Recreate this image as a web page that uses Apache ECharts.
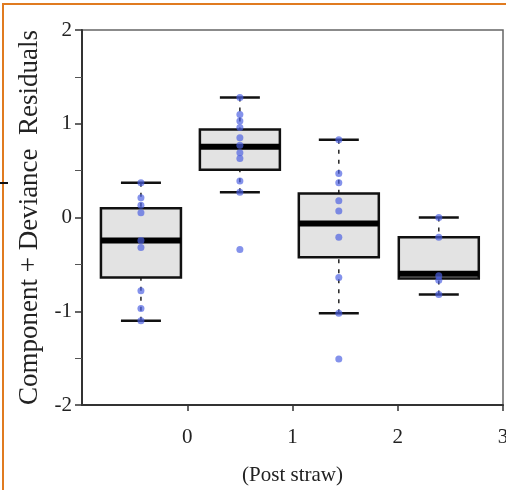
<!DOCTYPE html>
<html><head><meta charset="utf-8">
<script src="https://cdn.jsdelivr.net/npm/echarts@6/dist/echarts.min.js"></script>
<style>html,body{margin:0;padding:0;background:#fff}#c{width:506px;height:490px}</style>
</head><body><div id="c"></div>
<script>
// group positions on the x axis
const groupX = [-0.44, 0.5, 1.44, 2.39];
// box stats: [low whisker, q1, median, q3, high whisker]
const boxStats = [
  [-1.1, -0.64, -0.245, 0.1, 0.37],
  [0.27, 0.51, 0.755, 0.94, 1.28],
  [-1.02, -0.425, -0.065, 0.255, 0.83],
  [-0.82, -0.65, -0.6, -0.21, 0.0]
];
// residual points per group
const pts1 = [0.37, 0.21, 0.13, 0.05, -0.245, -0.32, -0.78, -0.97, -1.1];
const pts2 = [1.28, 1.1, 1.03, 0.96, 0.85, 0.77, 0.69, 0.63, 0.39, 0.27, -0.34];
const pts3 = [0.83, 0.47, 0.37, 0.18, 0.07, -0.21, -0.64, -1.02, -1.51];
const pts4 = [0.0, -0.21, -0.62, -0.67, -0.82];
const yTicks = [-2, -1, 0, 1, 2];
const xTicks = [0, 1, 2, 3];

const allPts = [pts1, pts2, pts3, pts4];
const scatterData = [];
allPts.forEach((arr, i) => arr.forEach(v => scatterData.push([groupX[i], v])));
const boxData = boxStats.map((s, i) => [groupX[i]].concat(s));

const serif = '"Liberation Serif","DejaVu Serif",serif';
const chart = echarts.init(document.getElementById('c'));
chart.setOption({
  animation: false,
  backgroundColor: '#fff',
  grid: {left: 82, right: 3, top: 30, bottom: 85, show: true, borderColor: '#666', borderWidth: 1.5,
    outerBoundsMode: 'none', containLabel: false},
  xAxis: {
    type: 'value', min: -1, max: 3, interval: 1,
    splitLine: {show: false},
    axisLine: {onZero: false, lineStyle: {color: '#333', width: 2}},
    axisTick: {show: true, inside: false, length: 6, lineStyle: {color: '#333', width: 1.5},
      customValues: xTicks},
    axisLabel: {customValues: xTicks, color: '#222', fontFamily: serif, fontSize: 21, margin: 22},
    name: '(Post straw)', nameLocation: 'middle', nameGap: 60,
    nameTextStyle: {color: '#222', fontFamily: serif, fontSize: 21}
  },
  yAxis: {
    type: 'value', min: -2, max: 2, interval: 1,
    splitLine: {show: false},
    axisLine: {show: true, onZero: false, lineStyle: {color: '#333', width: 2}},
    axisTick: {show: true, length: 7, lineStyle: {color: '#333', width: 1.5}, customValues: yTicks},
    minorTick: {show: true, splitNumber: 2, length: 7, lineStyle: {color: '#555', width: 1}},
    axisLabel: {customValues: yTicks, color: '#222', fontFamily: serif, fontSize: 21, margin: 10},
    name: 'Component + Deviance  Residuals', nameLocation: 'middle', nameGap: 38,
    nameTextStyle: {color: '#222', fontFamily: serif, fontSize: 27}
  },
  series: [
    {
      type: 'custom',
      data: boxData,
      encode: {x: 0, y: [1, 2, 3, 4, 5]},
      renderItem: function (params, api) {
        const x = api.value(0);
        const lo = api.coord([x, api.value(1)]);
        const q1 = api.coord([x, api.value(2)]);
        const md = api.coord([x, api.value(3)]);
        const q3 = api.coord([x, api.value(4)]);
        const hi = api.coord([x, api.value(5)]);
        const bw = api.size([0.76, 0])[0];
        const cw = api.size([0.38, 0])[0];
        const cx = lo[0];
        const black = {stroke: '#111', lineWidth: 2.5};
        return {
          type: 'group',
          children: [
            {type: 'line', shape: {x1: cx, y1: lo[1], x2: cx, y2: q1[1]}, style: {stroke: '#222', lineWidth: 1.5, lineDash: [4, 6]}},
            {type: 'line', shape: {x1: cx, y1: hi[1], x2: cx, y2: q3[1]}, style: {stroke: '#222', lineWidth: 1.5, lineDash: [4, 6]}},
            {type: 'line', shape: {x1: cx - cw / 2, y1: lo[1], x2: cx + cw / 2, y2: lo[1]}, style: black},
            {type: 'line', shape: {x1: cx - cw / 2, y1: hi[1], x2: cx + cw / 2, y2: hi[1]}, style: black},
            {type: 'rect', shape: {x: cx - bw / 2, y: q3[1], width: bw, height: q1[1] - q3[1]},
              style: {fill: '#e3e3e3', stroke: '#111', lineWidth: 2.5}},
            {type: 'line', shape: {x1: cx - bw / 2, y1: md[1], x2: cx + bw / 2, y2: md[1]}, style: {stroke: '#000', lineWidth: 6}}
          ]
        };
      },
      z: 2
    },
    {
      type: 'scatter',
      data: scatterData,
      symbolSize: 7,
      itemStyle: {color: 'rgba(75,95,225,0.85)'},
      z: 3
    }
  ],
  graphic: [
    {type: 'rect', shape: {x: 3, y: 4, width: 520, height: 520}, style: {fill: 'none', stroke: '#e07b20', lineWidth: 2}, z: 10},
    {type: 'line', shape: {x1: 0, y1: 183, x2: 8, y2: 183}, style: {stroke: '#111', lineWidth: 2}, z: 10}
  ]
});
</script></body></html>
